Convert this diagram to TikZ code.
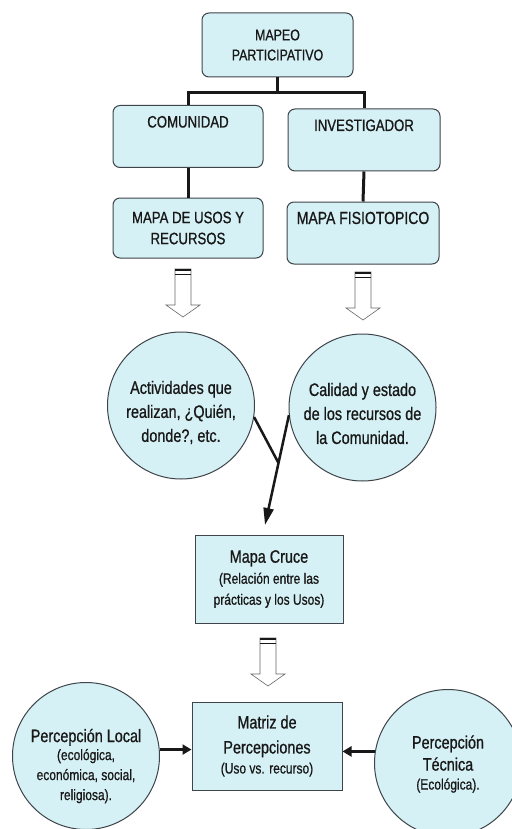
\documentclass[tikz,border=0pt]{standalone}
\usepackage{fontspec}
\setmainfont{Liberation Sans}[FakeStretch=0.8, FakeBold=0.8]
\usetikzlibrary{arrows.meta}
\definecolor{boxfill}{RGB}{214,241,245}
\definecolor{boxline}{RGB}{62,68,74}
\definecolor{ink}{RGB}{24,24,24}
\newcommand{\sm}[1]{{\fontsize{15}{19}\selectfont #1}}

\begin{document}
\begin{tikzpicture}[x=1pt, y=-1pt,
    box/.style={draw=boxline, fill=boxfill, line width=1pt, text=ink, align=center, font=\fontsize{16.5}{21}\selectfont},
    rbox/.style={box, rounded corners=7pt, minimum width=151pt},
    topbox/.style={rbox, text height=13pt, text depth=31pt, inner ysep=9pt},
    sqbox/.style={box, minimum width=149pt, minimum height=88pt, font=\fontsize{18}{22}\selectfont},
    blob/.style={circle, draw=boxline, fill=boxfill, line width=1pt, minimum size=147pt, inner sep=0pt},
    blobtext/.style={text=ink, align=center, font=\fontsize{18}{24}\selectfont},
    tree/.style={line width=3pt, draw=ink},
    mergeline/.style={line width=2.5pt, draw=ink},
    link/.style={line width=2.5pt, draw=ink, -{Triangle[length=17pt,width=10pt]}},
    side/.style={line width=2.8pt, draw=ink, -{Triangle[length=9pt,width=10pt]}},
    bigarrow/.pic={
      \draw[line width=0.6pt, draw=black!60, fill=white] (-8,0) -- (-8,36) -- (-17,36) -- (0,48) -- (17,36) -- (8,36) -- (8,0) -- cycle;
      \draw[line width=1.7pt, draw=ink] (-8,1) -- (8,1) (-8,5.5) -- (8,5.5);
    }]
  \useasboundingbox (0,0) rectangle (511,829);
  \fill[white] (0,0) rectangle (511,829);

  \node[rbox, minimum height=64pt, font=\fontsize{15.5}{20}\selectfont] (mapeo) at (277.5,45) {MAPEO\\PARTICIPATIVO};
  \node[topbox, minimum width=150pt] (comunidad) at (188,136.5) {COMUNIDAD};
  \node[topbox, minimum width=152pt] (investigador) at (364,140) {INVESTIGADOR};
  \node[rbox, minimum width=150pt, minimum height=60pt] (usos) at (188,228) {MAPA DE USOS Y\\RECURSOS};
  \node[topbox, minimum width=152pt, font=\fontsize{17.5}{21}\selectfont] (fisio) at (363,233) {MAPA FISIOTOPICO};

  \draw[tree] (mapeo.south) -- ++(0,15) -| (comunidad.north);
  \draw[tree] (mapeo.south) ++(0,15) -| (investigador.north);
  \draw[tree] (comunidad.south) -- (usos.north);
  \draw[tree] (investigador.south) -- (fisio.north);

  \pic at (183,269) {bigarrow};
  \pic at (363,272) {bigarrow};

  \node[blob, label={[blobtext, yshift=-7pt]center:Actividades que\\realizan, ¿Quién,\\donde?, etc.}] (act) at (181,405.5) {};
  \node[blob, label={[blobtext, yshift=-6pt]center:Calidad y estado\\de los recursos de\\la Comunidad.}] (cal) at (362.5,407.5) {};

  \node[sqbox, minimum width=148pt] (cruce) at (269,579) {Mapa Cruce\\[-1pt]\sm{(Relación entre las}\\[-1pt]\sm{prácticas y los Usos)}};

  \coordinate (jn) at (278.5,463);
  \coordinate (tip) at (265,525);
  \draw[mergeline] (act.-9) -- (jn);
  \draw[link] (cal.186) -- (tip);

  \pic at (268,638) {bigarrow};

  \node[sqbox, minimum width=150pt] (matriz) at (267,746) {Matriz de\\[3pt]Percepciones\\[-2pt]\sm{(Uso vs. recurso)}};

  \node[blob, label={[blobtext, yshift=-10pt]center:Percepción Local\\[-6pt]\sm{(ecológica,}\\[-4pt]\sm{económica, social,}\\[-4pt]\sm{religiosa).}}] (local) at (86,756) {};
  \node[blob, label={[blobtext, yshift=-1pt]center:Percepción\\[-2pt]Técnica\\[-5pt]\sm{(Ecológica).}}] (tecnica) at (448,763) {};

  \draw[side] (local.5) -- (local.5 -| matriz.west);
  \draw[side] (tecnica.171) -- (tecnica.171 -| matriz.east);
\end{tikzpicture}
\end{document}
